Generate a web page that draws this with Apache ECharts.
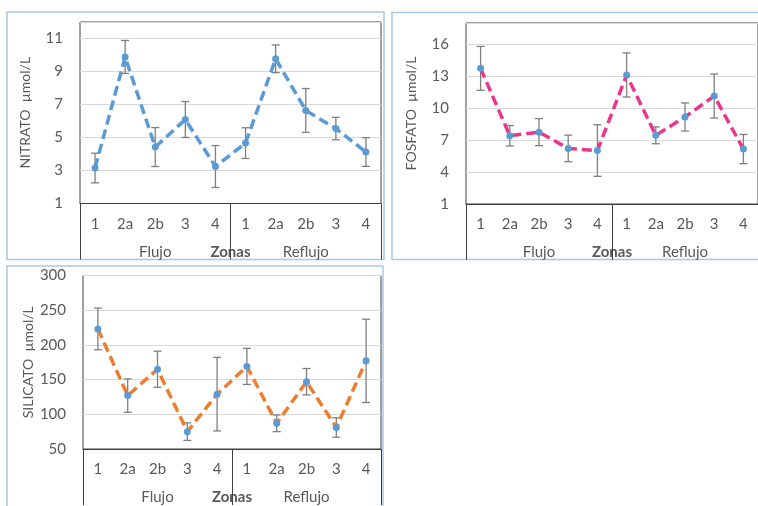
<!DOCTYPE html>
<html>
<head>
<meta charset="utf-8">
<script src="https://cdn.jsdelivr.net/npm/echarts@6/dist/echarts.min.js"></script>
<style>
html,body{margin:0;padding:0;background:#fff;}
#c{width:758px;height:506px;}
</style>
</head>
<body>
<div id="c"></div>
<script>
// ---- data ----
const categories = ['1','2a','2b','3','4','1','2a','2b','3','4'];
const groups = ['Flujo','Reflujo'];
const axisTitle = 'Zonas';

const nitrato    = [3.15, 9.88, 4.42, 6.09, 3.24, 4.66, 9.77, 6.64, 5.54, 4.12];
const nitratoErr = [0.90, 1.00, 1.18, 1.09, 1.27, 0.93, 0.84, 1.33, 0.68, 0.87];
const nitratoTicks = [1, 3, 5, 7, 9, 11];
const nitratoMax = 12;

const fosfato    = [13.74, 7.41, 7.75, 6.22, 6.02, 13.12, 7.45, 9.17, 11.14, 6.16];
const fosfatoErr = [2.06, 0.96, 1.27, 1.25, 2.42, 2.07, 0.79, 1.32, 2.07, 1.37];
const fosfatoTicks = [1, 4, 7, 10, 13, 16];
const fosfatoMax = 18;

const silicato    = [223, 127, 165, 75, 129, 169, 87, 147, 81, 177];
const silicatoErr = [30, 24, 26, 12.6, 53, 26, 12, 19, 14, 60];
const silicatoTicks = [50, 100, 150, 200, 250, 300];
const silicatoMax = 300;

const panels = [
  {name: 'NITRATO  µmol/L', values: nitrato, errs: nitratoErr, ticks: nitratoTicks, max: nitratoMax, color: '#5b9bd5',
   grid: {left: 80, top: 22, width: 301, height: 181.5}, showMax: false},
  {name: 'FOSFATO  µmol/L', values: fosfato, errs: fosfatoErr, ticks: fosfatoTicks, max: fosfatoMax, color: '#e8378c',
   grid: {left: 466, top: 23, width: 300, height: 181}, showMax: false},
  {name: 'SILICATO  µmol/L', values: silicato, errs: silicatoErr, ticks: silicatoTicks, max: silicatoMax, color: '#ed7d31',
   grid: {left: 83, top: 275.5, width: 298, height: 178.5}, showMax: true}
];

const FONT = 'Lato, "Open Sans", sans-serif';
const TXT = '#595959';
const DARK = '#404040';

function errRender(params, api) {
  const i = api.value(0), v = api.value(1), e = api.value(2);
  const t = api.coord([i, v + e]);
  const b = api.coord([i, v - e]);
  const hw = 4;
  const st = {stroke: '#7f7f7f', lineWidth: 1.3};
  return {type: 'group', children: [
    {type: 'line', shape: {x1: t[0], y1: t[1], x2: b[0], y2: b[1]}, style: st},
    {type: 'line', shape: {x1: t[0]-hw, y1: t[1], x2: t[0]+hw, y2: t[1]}, style: st},
    {type: 'line', shape: {x1: b[0]-hw, y1: b[1], x2: b[0]+hw, y2: b[1]}, style: st}
  ]};
}

const grid = [], xAxis = [], yAxis = [], series = [];
panels.forEach((p, k) => {
  grid.push(Object.assign({show: true, borderColor: DARK, borderWidth: 1, backgroundColor: 'transparent'}, p.grid));
  xAxis.push({
    type: 'category', gridIndex: k, data: categories, position: 'bottom',
    axisLine: {show: true, lineStyle: {color: DARK, width: 1}},
    axisTick: {show: false},
    axisLabel: {color: TXT, fontSize: 15, fontFamily: FONT, margin: 13, interval: 0},
    name: axisTitle, nameLocation: 'middle', nameGap: 41,
    nameTextStyle: {color: TXT, fontSize: 15, fontWeight: 'bold', fontFamily: FONT}
  });
  xAxis.push({
    type: 'category', gridIndex: k, data: groups, position: 'bottom',
    axisLine: {show: false},
    axisTick: {show: true, length: 56, interval: 0, lineStyle: {color: DARK, width: 1}},
    axisLabel: {color: TXT, fontSize: 15, fontFamily: FONT, margin: 41, interval: 0}
  });
  yAxis.push({
    type: 'value', gridIndex: k, min: p.ticks[0], max: p.max, interval: p.ticks[1] - p.ticks[0],
    axisLine: {show: false}, axisTick: {show: false},
    splitLine: {show: true, lineStyle: {color: '#d9d9d9', width: 1}},
    axisLabel: {color: TXT, fontSize: 15, fontFamily: FONT, margin: 17, showMaxLabel: p.showMax},
    name: p.name, nameLocation: 'middle', nameGap: 48,
    nameTextStyle: {color: TXT, fontSize: 14, fontFamily: FONT}
  });
  series.push({
    type: 'custom', xAxisIndex: 2*k, yAxisIndex: k, z: 1,
    renderItem: errRender, encode: {x: 0, y: 1},
    data: p.values.map((v, i) => [i, v, p.errs[i]]), silent: true
  });
  series.push({
    type: 'line', xAxisIndex: 2*k, yAxisIndex: k, z: 3, data: p.values,
    symbol: 'circle', symbolSize: 7, showSymbol: true,
    lineStyle: {color: p.color, width: 3.5, type: [10, 5]},
    itemStyle: {color: '#5b9bd5'}, animation: false
  });
});

const panelStroke = {fill: 'none', stroke: '#a9c8e3', lineWidth: 1.5};
const chart = echarts.init(document.getElementById('c'), null, {renderer: 'canvas'});
chart.setOption({
  backgroundColor: '#fff',
  animation: false,
  grid, xAxis, yAxis, series,
  graphic: [
    {type: 'rect', shape: {x: 7, y: 12, width: 377, height: 247.5}, style: panelStroke, silent: true},
    {type: 'rect', shape: {x: 392, y: 12.5, width: 380, height: 247}, style: panelStroke, silent: true},
    {type: 'rect', shape: {x: 7, y: 266, width: 376, height: 260}, style: panelStroke, silent: true}
  ]
});
</script>
</body>
</html>
